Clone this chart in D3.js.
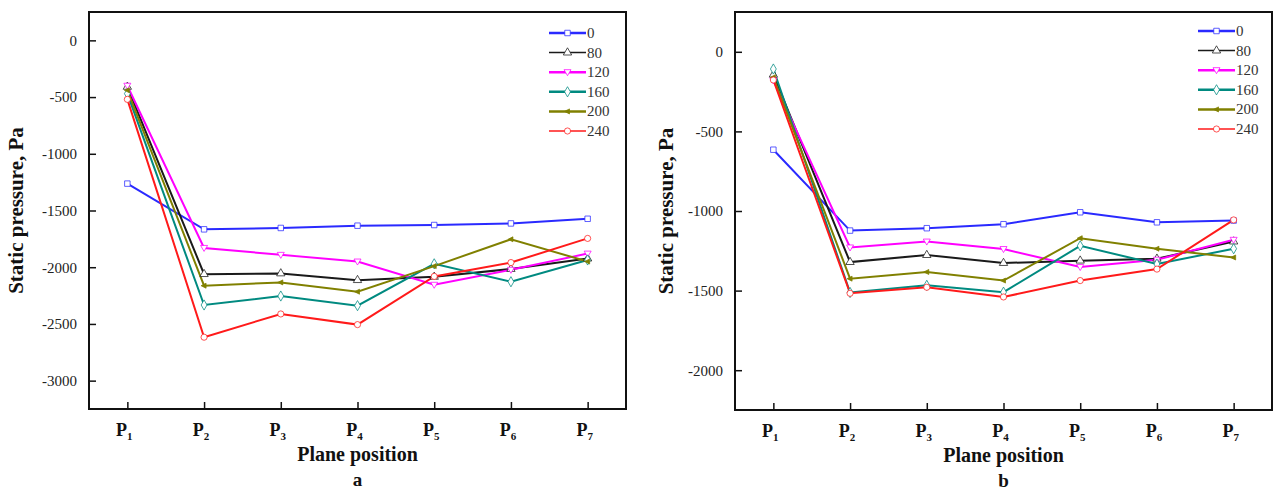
<!DOCTYPE html>
<html>
<head>
<meta charset="utf-8">
<script src="https://cdn.jsdelivr.net/npm/d3@7"></script>
<style>
  body { margin: 0; background: #fff; }
  svg { display: block; font-family: "Liberation Serif", "DejaVu Serif", serif; }
</style>
</head>
<body>
<svg id="chart" width="1275" height="493"></svg>
<script>
// plane positions P1..P7
var positions = ["1", "2", "3", "4", "5", "6", "7"];
var seriesNames = ["0", "80", "120", "160", "200", "240"];

// panel a
var a0   = [-1263, -1666, -1654, -1634, -1628, -1614, -1573];
var a80  = [-410, -2061, -2055, -2114, -2085, -2016, -1924];
var a120 = [-400, -1830, -1891, -1950, -2155, -2023, -1880];
var a160 = [-470, -2333, -2254, -2339, -1970, -2128, -1936];
var a200 = [-440, -2163, -2134, -2216, -1990, -1754, -1950];
var a240 = [-520, -2617, -2412, -2506, -2081, -1959, -1746];
var aTicks = [0, -500, -1000, -1500, -2000, -2500, -3000];

// panel b
var b0   = [-615, -1123, -1108, -1083, -1008, -1071, -1060];
var b80  = [-144, -1321, -1277, -1327, -1312, -1300, -1192];
var b120 = [-180, -1229, -1192, -1239, -1352, -1306, -1181];
var b160 = [-108, -1512, -1467, -1510, -1219, -1333, -1237];
var b200 = [-160, -1425, -1383, -1437, -1171, -1237, -1292];
var b240 = [-177, -1517, -1479, -1540, -1437, -1365, -1056];
var bTicks = [0, -500, -1000, -1500, -2000];

var colors = ["#2a2aff", "#1a1a1a", "#ff00ff", "#008a80", "#808000", "#ff1a1a"];
var shapes = ["square", "triangle", "down", "diamond", "left", "circle"];

var svg = d3.select("#chart");

function markerPath(shape) {
    if (shape == "square") return d3.symbol().type(d3.symbolSquare).size(30)();
    if (shape == "triangle") return d3.symbol().type(d3.symbolTriangle).size(30)();
    if (shape == "circle") return d3.symbol().type(d3.symbolCircle).size(30)();
    if (shape == "diamond") return d3.symbol().type(d3.symbolDiamond).size(30)();
    if (shape == "down") return "M-3.5,-2.5L3.5,-2.5L0,3.5Z";
    return "M-3,0L2,-2.5L2,2.5Z"; // left
}

function drawMarker(g, shape, color, x, y) {
    g.append("path")
        .attr("d", markerPath(shape))
        .attr("transform", "translate(" + x + "," + y + ")")
        .attr("fill", shape == "left" ? color : "#fff")
        .attr("stroke", color)
        .attr("stroke-opacity", 0.75)
        .attr("stroke-width", 1);
}

function panel(cfg) {
    var g = svg.append("g");

    var x = d3.scaleLinear().domain([0.5, 7.5]).range([cfg.left, cfg.right]);
    var y = d3.scaleLinear().domain(cfg.yDomain).range([cfg.bottom, cfg.top]);

    // y axis ticks (inward) and labels
    var yAxis = d3.axisLeft(y).tickValues(cfg.ticks).tickSize(-7).tickPadding(12)
        .tickFormat(function(d) { return d; });
    var ya = g.append("g").attr("transform", "translate(" + cfg.left + ",0)").call(yAxis)
        .attr("font-family", "Liberation Serif").attr("font-size", 15);
    ya.select(".domain").remove();
    ya.selectAll("line").attr("stroke", "#111").attr("stroke-width", 1.5);
    ya.selectAll("text").attr("fill", "#222");

    // x axis ticks (inward)
    var xAxis = d3.axisBottom(x).tickValues(d3.range(1, 8)).tickSize(-7).tickFormat("");
    var xa = g.append("g").attr("transform", "translate(0," + cfg.bottom + ")").call(xAxis);
    xa.select(".domain").remove();
    xa.selectAll("line").attr("stroke", "#111").attr("stroke-width", 1.5);

    // P labels with subscripts
    positions.forEach(function(p, i) {
        var t = g.append("text")
            .attr("x", x(i + 1) - 3)
            .attr("y", cfg.bottom + 27)
            .attr("text-anchor", "middle")
            .attr("font-weight", "bold")
            .attr("font-size", 18)
            .attr("fill", "#111");
        t.append("tspan").text("P");
        t.append("tspan").text(p).attr("font-size", 11).attr("dy", 4);
    });

    // frame
    g.append("rect")
        .attr("x", cfg.left).attr("y", cfg.top)
        .attr("width", cfg.right - cfg.left).attr("height", cfg.bottom - cfg.top)
        .attr("fill", "none").attr("stroke", "#111").attr("stroke-width", 2);

    var line = d3.line()
        .x(function(d, i) { return x(i + 1); })
        .y(function(d) { return y(d); });

    cfg.series.forEach(function(vals, k) {
        g.append("path")
            .datum(vals)
            .attr("d", line)
            .attr("fill", "none")
            .attr("stroke", colors[k])
            .attr("stroke-width", 2);
    });
    cfg.series.forEach(function(vals, k) {
        vals.forEach(function(v, i) {
            drawMarker(g, shapes[k], colors[k], x(i + 1), y(v));
        });
    });

    // legend
    seriesNames.forEach(function(name, k) {
        var ly = cfg.legendY + k * 19.6;
        g.append("line")
            .attr("x1", cfg.legendX).attr("x2", cfg.legendX + 37)
            .attr("y1", ly).attr("y2", ly)
            .attr("stroke", colors[k]).attr("stroke-width", k == 1 || k == 5 ? 1.5 : 2.5);
        drawMarker(g, shapes[k], colors[k], cfg.legendX + 18.5, ly);
        g.append("text")
            .attr("x", cfg.legendX + 38).attr("y", ly + 5)
            .attr("font-size", 15).attr("fill", "#333")
            .text(name);
    });

    // axis titles
    var midY = (cfg.top + cfg.bottom) / 2;
    g.append("text")
        .attr("transform", "translate(" + cfg.yTitleX + "," + midY + ") rotate(-90)")
        .attr("text-anchor", "middle")
        .attr("font-weight", "bold")
        .attr("font-size", 21)
        .attr("fill", "#111")
        .text("Static pressure, Pa");

    g.append("text")
        .attr("x", x(4)).attr("y", cfg.bottom + 52)
        .attr("text-anchor", "middle")
        .attr("font-weight", "bold")
        .attr("font-size", 20)
        .attr("fill", "#111")
        .text("Plane position");

    g.append("text")
        .attr("x", x(4)).attr("y", cfg.bottom + 77)
        .attr("text-anchor", "middle")
        .attr("font-weight", "bold")
        .attr("font-size", 19)
        .attr("fill", "#111")
        .text(cfg.tag);
}

panel({
    left: 89, right: 626, top: 12, bottom: 409,
    yDomain: [-3250, 250], ticks: aTicks,
    series: [a0, a80, a120, a160, a200, a240],
    legendX: 549, legendY: 33, yTitleX: 23, tag: "a"
});

panel({
    left: 735, right: 1272, top: 12, bottom: 410,
    yDomain: [-2250, 250], ticks: bTicks,
    series: [b0, b80, b120, b160, b200, b240],
    legendX: 1198, legendY: 31, yTitleX: 673, tag: "b"
});
</script>
</body>
</html>
